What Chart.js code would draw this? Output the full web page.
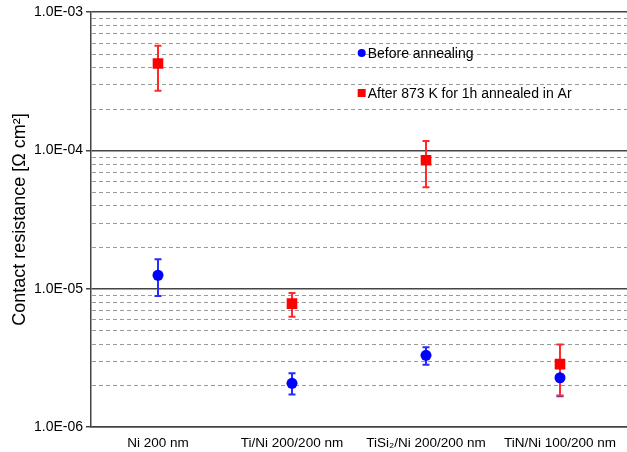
<!DOCTYPE html>
<html>
<head>
<meta charset="utf-8">
<script src="https://cdn.jsdelivr.net/npm/chart.js@4"></script>
<style>
  html, body { margin: 0; padding: 0; background: #fff; }
  #wrap { width: 627px; height: 452px; }
</style>
</head>
<body>
<div id="wrap"><canvas id="myChart" width="627" height="452"></canvas></div>
<script>
const samples = ['Ni 200 nm', 'Ti/Ni 200/200 nm', 'TiSi\u2082/Ni 200/200 nm', 'TiN/Ni 100/200 nm'];

const beforeLabel = 'Before annealing';
const beforeValues = [1.25e-5, 2.07e-6, 3.3e-6, 2.27e-6];
const beforeLow = [8.85e-6, 1.72e-6, 2.82e-6, 1.67e-6];
const beforeHigh = [1.63e-5, 2.45e-6, 3.77e-6, 2.8e-6];

const afterLabel = 'After 873 K for 1h annealed in Ar';
const afterValues = [4.24e-4, 7.8e-6, 8.47e-5, 2.85e-6];
const afterLow = [2.7e-4, 6.27e-6, 5.4e-5, 1.69e-6];
const afterHigh = [5.7e-4, 9.3e-6, 1.17e-4, 3.94e-6];

const decades = [1e-6, 1e-5, 1e-4, 1e-3];
const decadeLabels = ['1.0E-06', '1.0E-05', '1.0E-04', '1.0E-03'];

const font = 'Arial, "Liberation Sans", sans-serif';

function isDecade(v) {
  return decades.some(d => Math.abs(v - d) / d < 1e-6);
}

// dashed minor grid lines, from the y scale's own ticks
const minorGrid = {
  id: 'minorGrid',
  beforeDatasetsDraw(chart) {
    const ctx = chart.ctx;
    const a = chart.chartArea;
    const y = chart.scales.y;
    ctx.save();
    ctx.strokeStyle = '#9a9a9a';
    ctx.lineWidth = 1;
    ctx.setLineDash([4, 3]);
    y.ticks.forEach(t => {
      if (isDecade(t.value)) return;
      const py = Math.round(y.getPixelForValue(t.value)) + 0.5;
      ctx.beginPath();
      ctx.moveTo(a.left + 1, py);
      ctx.lineTo(a.right, py);
      ctx.stroke();
    });
    ctx.restore();
  }
};

// error bars drawn under the markers
const errorBars = {
  id: 'errorBars',
  beforeDatasetsDraw(chart) {
    const ctx = chart.ctx;
    const x = chart.scales.x, y = chart.scales.y;
    chart.data.datasets.forEach(ds => {
      ctx.save();
      ctx.strokeStyle = ds.barColor;
      ctx.lineWidth = 2;
      ds.data.forEach((v, i) => {
        const px = x.getPixelForValue(i);
        const top = y.getPixelForValue(ds.high[i]);
        const bot = y.getPixelForValue(ds.low[i]);
        ctx.beginPath();
        ctx.moveTo(px, top); ctx.lineTo(px, bot);
        ctx.moveTo(px - 3.5, top); ctx.lineTo(px + 3.5, top);
        ctx.moveTo(px - 3.5, bot); ctx.lineTo(px + 3.5, bot);
        ctx.stroke();
      });
      ctx.restore();
    });
  }
};

// legend inside the plot
const insideLegend = {
  id: 'insideLegend',
  afterDraw(chart) {
    const ctx = chart.ctx;
    const a = chart.chartArea;
    const lx = a.left + (a.right - a.left) * 0.505;
    const rows = [a.top + 41, a.top + 81];
    ctx.save();
    ctx.font = '14px ' + font;
    ctx.textBaseline = 'middle';
    chart.data.datasets.forEach((ds, i) => {
      const yy = rows[i];
      ctx.fillStyle = ds.pointBackgroundColor;
      if (ds.pointStyle === 'circle') {
        ctx.beginPath(); ctx.arc(lx, yy, 4, 0, Math.PI * 2); ctx.fill();
      } else {
        ctx.fillRect(lx - 4, yy - 4, 8, 8);
      }
      ctx.fillStyle = '#000';
      ctx.fillText(ds.label, lx + 6, yy + 1);
    });
    ctx.restore();
  }
};

const ctx = document.getElementById('myChart').getContext('2d');
const myChart = new Chart(ctx, {
  type: 'line',
  data: {
    labels: samples,
    datasets: [{
      label: beforeLabel,
      data: beforeValues,
      low: beforeLow,
      high: beforeHigh,
      showLine: false,
      pointStyle: 'circle',
      pointRadius: 5.5,
      pointBackgroundColor: '#0000ff',
      pointBorderWidth: 0,
      barColor: '#2b2bff'
    }, {
      label: afterLabel,
      data: afterValues,
      low: afterLow,
      high: afterHigh,
      showLine: false,
      pointStyle: 'rect',
      pointRadius: 7.5,
      pointBackgroundColor: '#ff0000',
      pointBorderWidth: 0,
      barColor: '#ff2b2b'
    }]
  },
  options: {
    responsive: false,
    animation: false,
    layout: { autoPadding: false, padding: { top: 12, right: 0, left: 0, bottom: 0 } },
    plugins: {
      legend: { display: false },
      tooltip: { enabled: false }
    },
    scales: {
      x: {
        type: 'category',
        offset: true,
        grid: { display: false },
        border: { color: '#444', width: 1.5 },
        ticks: { color: '#000', font: { family: font, size: 13.5 }, maxRotation: 0, padding: 0 },
        afterFit(scale) {
          scale.height = 25;
          scale.paddingLeft = 0;
          scale.paddingRight = 0;
        }
      },
      y: {
        type: 'logarithmic',
        min: 1e-6,
        max: 1e-3,
        afterBuildTicks(scale) {
          const t = [];
          decades.forEach((d, k) => {
            t.push({ value: d });
            if (k < decades.length - 1) {
              for (let m = 2; m <= 9; m++) t.push({ value: d * m });
            }
          });
          scale.ticks = t;
        },
        grid: {
          color: c => isDecade(c.tick.value) ? '#444' : 'rgba(0,0,0,0)',
          lineWidth: c => isDecade(c.tick.value) ? 1.5 : 0,
          tickColor: c => isDecade(c.tick.value) ? '#444' : 'rgba(0,0,0,0)',
          tickLength: 5
        },
        border: { color: '#444', width: 1.5 },
        ticks: {
          autoSkip: false,
          color: '#000',
          font: { family: font, size: 14 },
          padding: 3,
          callback: v => {
            const k = decades.findIndex(d => Math.abs(v - d) / d < 1e-6);
            return k >= 0 ? decadeLabels[k] : '';
          }
        },
        title: {
          display: true,
          text: 'Contact resistance [\u03A9 cm\u00B2]',
          color: '#000',
          font: { family: font, size: 18 },
          padding: { top: 9, bottom: 3 }
        },
        afterFit(scale) { scale.width = 91; }
      }
    }
  },
  plugins: [minorGrid, errorBars, insideLegend]
});
</script>
</body>
</html>
